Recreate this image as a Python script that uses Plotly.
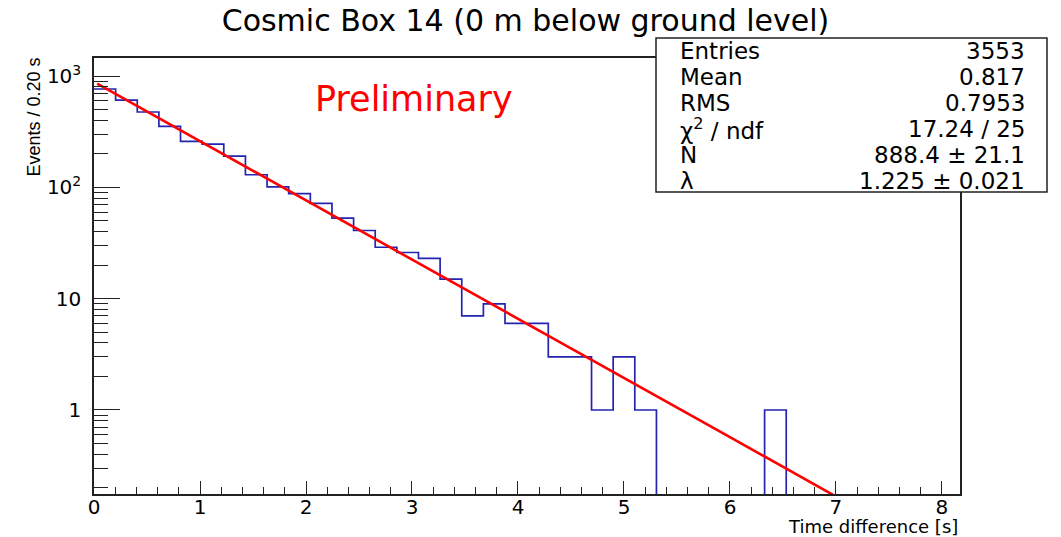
import plotly.graph_objects as go

# ---------------- data ----------------
bin_width = 10 / 49  # s  (axis label rounds to 0.20 s)
counts = [766, 610, 476, 354, 259, 245, 191, 130, 101, 88,
          72, 53, 41, 29, 26, 23, 15, 7, 9, 6,
          6, 3, 3, 1, 3, 1, 0, 0, 0, 0,
          0, 1]
fit_x = [0.03, 1.0, 2.0, 3.0, 4.0, 5.0, 6.0, 7.06]
fit_y = [855, 261, 77, 22.6, 6.6, 1.95, 0.57, 0.155]

y_tickvals = [1, 10, 100, 1000]
y_ticktext = ["1", "10", "10<sup>2</sup>", "10<sup>3</sup>"]
x_tickvals = [0, 1, 2, 3, 4, 5, 6, 7, 8]

title_text = "Cosmic Box 14 (0 m below ground level)"
x_title = "Time difference [s]"
y_title = "Events / 0.20 s"
stats_labels = ["Entries", "Mean", "RMS", "χ<sup>2</sup> / ndf", "N", "λ"]
stats_values = ["3553", "0.817", "0.7953", "17.24 / 25", "888.4 ± 21.1", "1.225 ± 0.021"]

# ---------------- layout geometry ----------------
W, H = 1061, 537
ML, MR, MT, MB = 94, 101, 58, 43
PW, PH = W - ML - MR, H - MT - MB

def px(xp):
    return (xp - ML) / PW

def py(yp):
    return (H - MB - yp) / PH

FONT = "DejaVu Sans"
FONT2 = "Liberation Sans"
BLUE = "#2424b0"
RED = "#ff0000"

floor = 1e-3
edges = [k * bin_width for k in range(len(counts) + 1)]
hist_y = [c if c > 0 else floor for c in counts] + [floor]

fig = go.Figure()
fig.add_trace(go.Scatter(
    x=edges, y=hist_y, mode="lines", line=dict(shape="hv", color=BLUE, width=1.7),
    hoverinfo="skip", showlegend=False))
fig.add_trace(go.Scatter(
    x=fit_x, y=fit_y, mode="lines", line=dict(color=RED, width=2.6),
    hoverinfo="skip", showlegend=False))

fig.update_layout(
    width=W, height=H,
    margin=dict(l=ML, r=MR, t=MT, b=MB, pad=0),
    paper_bgcolor="white", plot_bgcolor="white",
    showlegend=False,
    title=dict(text=title_text, x=525.5 / W, xanchor="center",
               y=1 - 20 / H, yanchor="middle",
               font=dict(family=FONT, size=30, color="black")),
    font=dict(family=FONT, color="black"),
)

fig.update_xaxes(
    range=[0, 8.17], showgrid=False, zeroline=False,
    showline=True, linecolor="#222", linewidth=1.5, mirror=True,
    ticks="inside", ticklen=13, tickwidth=1.2, tickcolor="#222",
    tickvals=x_tickvals, tickfont=dict(family=FONT, size=20, color="black"),
    ticklabelstandoff=-6,
    minor=dict(ticks="inside", ticklen=7, tickwidth=1.2, tickcolor="#222",
               dtick=0.2, tick0=0, showgrid=False),
)
fig.update_yaxes(
    type="log", range=[-0.755, 3.163], showgrid=False, zeroline=False,
    showline=True, linecolor="#222", linewidth=1.5, mirror=True,
    ticks="inside", ticklen=26, tickwidth=1.2, tickcolor="#222",
    tickvals=y_tickvals, ticktext=y_ticktext,
    tickfont=dict(family=FONT, size=20, color="black"),
    ticklabelstandoff=7,
    minor=dict(ticks="inside", ticklen=14, tickwidth=1.2, tickcolor="#222",
               dtick="D1", showgrid=False),
)

annotations = []
# axis titles
annotations.append(dict(text=x_title, xref="paper", yref="paper",
                        x=1.0, y=py(526), xanchor="right", yanchor="middle",
                        showarrow=False, font=dict(family=FONT, size=18, color="black")))
annotations.append(dict(text=y_title, xref="paper", yref="paper",
                        x=px(33), y=py(55), xanchor="center", yanchor="top",
                        textangle=-90, showarrow=False,
                        font=dict(family=FONT2, size=18, color="black")))
# Preliminary
annotations.append(dict(text="Preliminary", xref="paper", yref="paper",
                        x=px(414), y=py(99), xanchor="center", yanchor="middle",
                        showarrow=False, font=dict(family=FONT, size=35, color=RED)))
# stats box text
row_y = [51, 77, 103, 129, 155, 181]
for lab, val, ry in zip(stats_labels, stats_values, row_y):
    annotations.append(dict(text=lab, xref="paper", yref="paper",
                            x=px(678), y=py(ry), xanchor="left", yanchor="middle",
                            showarrow=False, font=dict(family=FONT, size=23, color="black")))
    annotations.append(dict(text=val, xref="paper", yref="paper",
                            x=px(1027), y=py(ry), xanchor="right", yanchor="middle",
                            showarrow=False, font=dict(family=FONT, size=23, color="black")))
fig.update_layout(annotations=annotations)

fig.add_shape(type="rect", xref="paper", yref="paper",
              x0=px(656), x1=px(1047), y0=py(192), y1=py(38),
              line=dict(color="#222", width=1.5), fillcolor="white", layer="above")

fig.write_html("out.html")
